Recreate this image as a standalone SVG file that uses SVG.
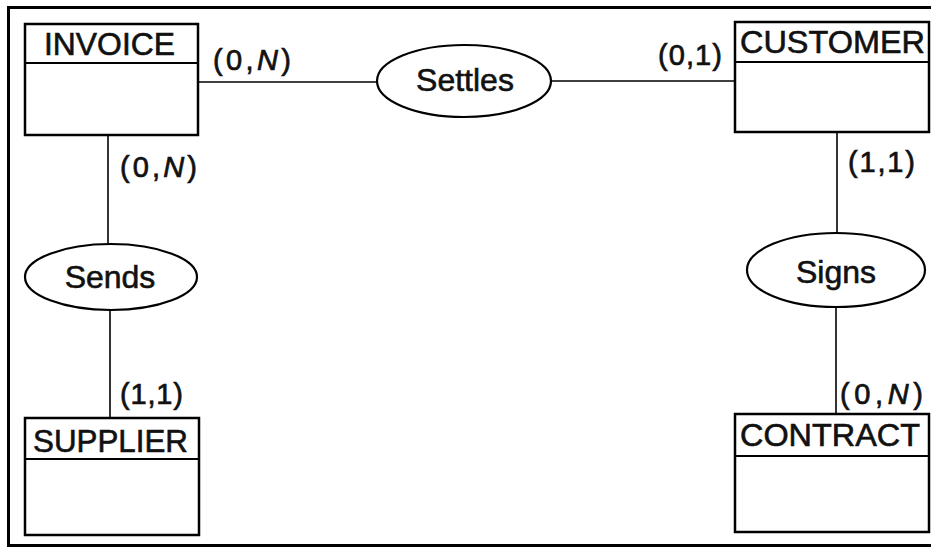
<svg xmlns="http://www.w3.org/2000/svg" width="931" height="550" viewBox="0 0 931 550">
<style>
.frame{fill:none;stroke:#000;stroke-width:3}
.box{fill:#fff;stroke:#000;stroke-width:2.5}
.div{stroke:#000;stroke-width:2}
.rel{fill:#fff;stroke:#000;stroke-width:2.2}
.edge{stroke:#000;stroke-width:1.6;fill:none}
.ent{font-family:"Liberation Sans",Arial,sans-serif;font-size:31px;fill:#111;stroke:#111;stroke-width:0.6}
.rlab{font-family:"Liberation Sans",Arial,sans-serif;font-size:32px;fill:#111;stroke:#111;stroke-width:0.6;text-anchor:middle}
.card{font-family:"Liberation Sans",Arial,sans-serif;font-size:29px;fill:#111;stroke:#111;stroke-width:0.7}
</style>
<rect width="931" height="550" fill="#fff"/>
<path class="frame" d="M933,7.5 H8.5 V545.5 H933"/>
<g id="connectors">
<line class="edge" x1="198" y1="82" x2="377" y2="82"/>
<line class="edge" x1="552" y1="81" x2="735" y2="81"/>
<line class="edge" x1="108" y1="135" x2="108" y2="245"/>
<line class="edge" x1="110" y1="310" x2="110" y2="418"/>
<line class="edge" x1="837" y1="132" x2="837" y2="233"/>
<line class="edge" x1="836" y1="307" x2="836" y2="414"/>
<text class="card" x="213" y="70" textLength="78" lengthAdjust="spacing">(0,<tspan font-style="italic">N</tspan>)</text>
<text class="card" x="658" y="65" textLength="64" lengthAdjust="spacing">(0,1)</text>
<text class="card" x="120" y="177" textLength="77" lengthAdjust="spacing">(0,<tspan font-style="italic">N</tspan>)</text>
<text class="card" x="848" y="172" textLength="67" lengthAdjust="spacing">(1,1)</text>
<text class="card" x="120" y="404" textLength="63" lengthAdjust="spacing">(1,1)</text>
<text class="card" x="840" y="404" textLength="83" lengthAdjust="spacing">(0,<tspan font-style="italic">N</tspan>)</text>
</g>
<g id="invoice">
<rect class="box" x="25" y="24" width="173" height="111"/>
<line class="div" x1="25" y1="63" x2="198" y2="63"/>
<text class="ent" x="44" y="55" textLength="131" lengthAdjust="spacingAndGlyphs">INVOICE</text>
</g>
<g id="customer">
<rect class="box" x="735" y="22" width="194" height="110"/>
<line class="div" x1="735" y1="62" x2="929" y2="62"/>
<text class="ent" x="740" y="53" textLength="185" lengthAdjust="spacingAndGlyphs">CUSTOMER</text>
</g>
<g id="supplier">
<rect class="box" x="25" y="418" width="174" height="117"/>
<line class="div" x1="25" y1="459" x2="199" y2="459"/>
<text class="ent" x="33" y="452" textLength="155" lengthAdjust="spacingAndGlyphs">SUPPLIER</text>
</g>
<g id="contract">
<rect class="box" x="735" y="414" width="194" height="118"/>
<line class="div" x1="735" y1="456" x2="929" y2="456"/>
<text class="ent" x="740" y="446" textLength="180" lengthAdjust="spacingAndGlyphs">CONTRACT</text>
</g>
<g id="settles">
<ellipse class="rel" cx="464" cy="81" rx="87" ry="36"/>
<text class="rlab" x="465" y="91">Settles</text>
</g>
<g id="sends">
<ellipse class="rel" cx="111" cy="277" rx="86" ry="33"/>
<text class="rlab" x="110" y="288">Sends</text>
</g>
<g id="signs">
<ellipse class="rel" cx="836" cy="270" rx="89" ry="37"/>
<text class="rlab" x="836" y="283">Signs</text>
</g>
</svg>
